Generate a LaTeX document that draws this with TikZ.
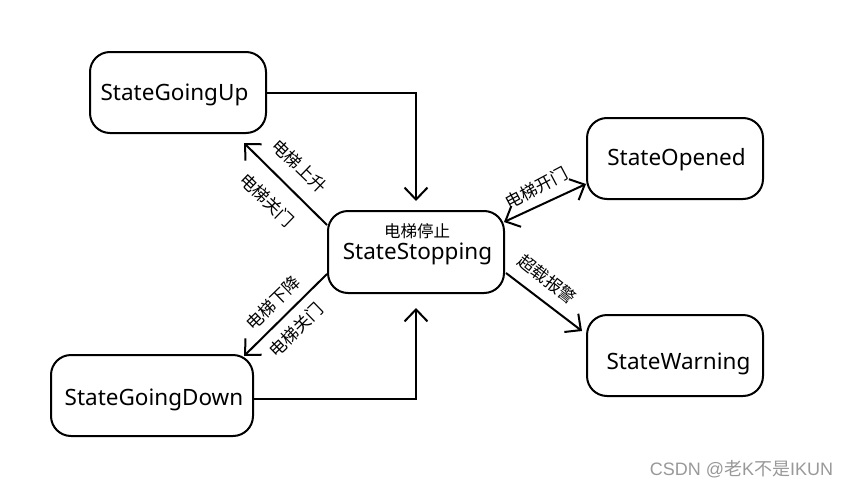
\documentclass[tikz,border=0pt]{standalone}
\usepackage{fontspec}
\setmainfont{Noto Sans}
\newfontfamily\cjk{Noto Sans CJK SC}
\newfontfamily\wmfont{Liberation Sans}
\usetikzlibrary{arrows.meta}
\begin{document}
\begin{tikzpicture}[x=1pt,y=-1pt,
  statebox/.style={draw,line width=2pt,rounded corners=20pt,inner sep=0pt},
  statetext/.style={font=\fontsize{22.5}{26}\selectfont,inner sep=0pt,anchor=base},
  cnlabel/.style={font=\cjk\fontsize{17}{18}\selectfont,inner sep=0pt},
  conn/.style={line width=2pt,-{Straight Barb[length=12pt,width=23pt,line width=2pt]}},
  bconn/.style={line width=2pt,{Straight Barb[length=12pt,width=23pt,line width=2pt]}-{Straight Barb[length=12pt,width=23pt,line width=2pt]}}]
\useasboundingbox (0,0) rectangle (849,490);
\fill[white] (0,0) rectangle (849,490);

\node[statebox,minimum width=176pt,minimum height=81pt] (up) at (178,92.5) {};
\node[statebox,minimum width=176pt,minimum height=82pt] (stop) at (416,252) {};
\node[statebox,minimum width=202pt,minimum height=81pt] (down) at (152,395.5) {};
\node[statebox,minimum width=176pt,minimum height=81pt] (open) at (675,158.5) {};
\node[statebox,minimum width=176pt,minimum height=81pt] (warn) at (675,355.5) {};

\node[statetext] (uptxt) at (174.5,100) {StateGoingUp};
\node[statetext] (stoptxt) at (417.5,259) {StateStopping};
\node[cnlabel,font=\cjk\fontsize{16.5}{18}\selectfont] (stoplbl) at (417,231) {电梯停止};
\node[statetext] (downtxt) at (154,405) {StateGoingDown};
\node[statetext] (opentxt) at (676.5,165) {StateOpened};
\node[statetext] (warntxt) at (678.5,369) {StateWarning};

\draw[conn] (up.east) -| ([yshift=9pt]stop.north);
\draw[conn] ([yshift=-3.5pt]down.east) -| ([yshift=-14pt]stop.south);
\draw[conn] ([yshift=27pt]stop.west) -- ([xshift=-23pt,yshift=-9pt]up.south east);
\draw[conn] ([yshift=-22pt]stop.west) -- ([xshift=-10pt,yshift=-2pt]down.north east);
\draw[bconn] ([xshift=-1pt,yshift=30pt]stop.east) -- ([yshift=-25.5pt]open.west);
\draw[conn] ([xshift=1pt,yshift=-21pt]stop.east) -- ([xshift=-4pt,yshift=24.5pt]warn.west);

\node[cnlabel,rotate=-44] (l1) at (299.5,166) {电梯上升};
\node[cnlabel,rotate=-44] (l2) at (267,200) {电梯关门};
\node[cnlabel,rotate=44] (l3) at (273,303) {电梯下降};
\node[cnlabel,rotate=44] (l4) at (296,330) {电梯关门};
\node[cnlabel,rotate=28] (l5) at (536,188) {电梯开门};
\node[cnlabel,rotate=-38] (l6) at (547,279) {超载报警};

\node[font=\wmfont\fontsize{18}{20}\selectfont,text=black!40,inner sep=0pt] (wm) at (741.5,469) {CSDN @{\cjk 老}K{\cjk 不是}IKUN};
\end{tikzpicture}
\end{document}
